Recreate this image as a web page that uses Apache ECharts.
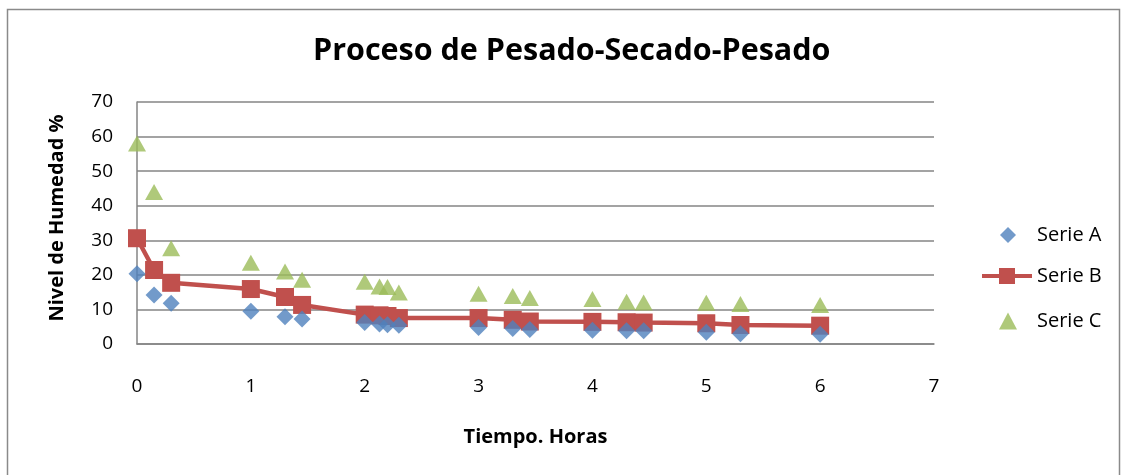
<!DOCTYPE html>
<html>
<head>
<meta charset="utf-8">
<script src="https://cdn.jsdelivr.net/npm/echarts@6/dist/echarts.min.js"></script>
<style>
html,body{margin:0;padding:0;background:#fff;}
#chart{width:1123px;height:475px;}
</style>
</head>
<body>
<div id="chart"></div>
<script>
const titleText = 'Proceso de Pesado-Secado-Pesado';
const xAxisName = 'Tiempo. Horas';
const yAxisName = 'Nivel de Humedad %';
const seriesNames = ['Serie A', 'Serie B', 'Serie C'];
const times  = [0, 0.15, 0.3, 1.0, 1.3, 1.45, 2.0, 2.13, 2.2, 2.3, 3.0, 3.3, 3.45, 4.0, 4.3, 4.45, 5.0, 5.3, 6.0];
const serieA = [20.3, 14.2, 11.8, 9.5, 7.9, 7.2, 6.2, 5.8, 5.6, 5.4, 4.8, 4.5, 4.2, 4.0, 3.8, 3.8, 3.4, 3.0, 2.8];
const serieB = [30.6, 21.4, 17.7, 15.9, 13.6, 11.3, 8.5, 8.3, 8.1, 7.5, 7.5, 7.0, 6.5, 6.4, 6.3, 6.2, 6.0, 5.5, 5.3];
const serieC = [58.0, 44.0, 27.7, 23.5, 21.0, 18.6, 18.0, 16.6, 16.5, 14.9, 14.5, 13.9, 13.3, 13.0, 12.2, 12.0, 11.9, 11.6, 11.3];

const pair = arr => times.map((t, i) => [t, arr[i]]);
const FONT = '"Open Sans", "Liberation Sans", sans-serif';
const gridColor = '#858585';
const legendText = pad => ({ fontFamily: FONT, fontSize: 20, color: '#000', padding: [0, 0, 0, pad] });

const chart = echarts.init(document.getElementById('chart'));
chart.setOption({
  animation: false,
  backgroundColor: '#fff',
  textStyle: { fontFamily: FONT, color: '#000' },
  title: {
    text: titleText, left: 308, top: 31,
    textStyle: { fontFamily: FONT, fontWeight: 'bold', fontSize: 30.5, color: '#000' }
  },
  graphic: [{
    type: 'rect', shape: { x: 7.5, y: 9.5, width: 1112, height: 480 },
    style: { fill: 'none', stroke: '#8a8a8a', lineWidth: 1.5 }, silent: true
  }],
  grid: { left: 137, right: 189, top: 102, bottom: 131, containLabel: false },
  legend: [
    { orient: 'vertical', left: 995, top: 220, itemWidth: 16, itemHeight: 16,
      textStyle: legendText(16), data: [seriesNames[0]] },
    { orient: 'vertical', left: 975, top: 261, itemWidth: 50, itemHeight: 20,
      lineStyle: { width: 4 }, textStyle: legendText(0), data: [seriesNames[1]] },
    { orient: 'vertical', left: 994, top: 306, itemWidth: 18, itemHeight: 17,
      textStyle: legendText(15), data: [seriesNames[2]] }
  ],
  xAxis: {
    type: 'value', min: 0, max: 7, interval: 1,
    name: xAxisName, nameLocation: 'middle', nameGap: 83,
    nameTextStyle: { fontFamily: FONT, fontWeight: 'bold', fontSize: 20, color: '#000' },
    axisLine: { show: true, lineStyle: { color: gridColor, width: 1.5 } },
    axisTick: { show: false },
    axisLabel: { margin: 33, fontSize: 19, color: '#000', fontFamily: FONT },
    splitLine: { show: false }
  },
  yAxis: {
    type: 'value', min: 0, max: 70, interval: 10,
    name: yAxisName, nameLocation: 'middle', nameGap: 70,
    nameTextStyle: { fontFamily: FONT, fontWeight: 'bold', fontSize: 20, color: '#000', padding: [0, 0, 0, 10] },
    axisLine: { show: true, lineStyle: { color: gridColor, width: 1.5 } },
    axisTick: { show: false },
    axisLabel: { margin: 24, fontSize: 19, color: '#000', fontFamily: FONT },
    splitLine: { show: true, lineStyle: { color: gridColor, width: 1.5 } }
  },
  series: [
    {
      name: seriesNames[0], type: 'scatter', data: pair(serieA),
      symbol: 'diamond', symbolSize: 17,
      itemStyle: { color: '#4F81BD' }, z: 3
    },
    {
      name: seriesNames[1], type: 'line', data: pair(serieB),
      symbol: 'rect', symbolSize: 18, showAllSymbol: true,
      lineStyle: { color: '#C0504D', width: 4.5 },
      itemStyle: { color: '#C0504D' }, z: 2
    },
    {
      name: seriesNames[2], type: 'scatter', data: pair(serieC),
      symbol: 'triangle', symbolSize: [18, 16],
      itemStyle: { color: '#9BBB59' }, z: 4
    }
  ]
});
</script>
</body>
</html>
